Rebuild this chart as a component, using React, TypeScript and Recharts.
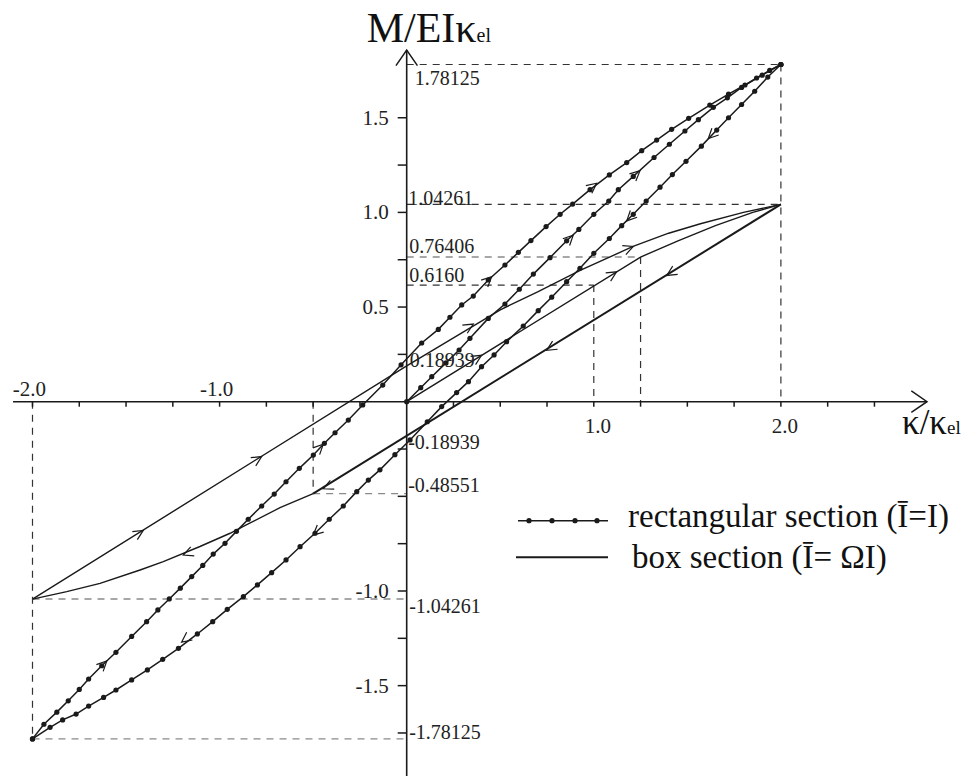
import React from 'react';
import { ComposedChart, Scatter, XAxis, YAxis, ReferenceLine, Legend } from 'recharts';

// rectangular section (I = I) — marker points along each branch
const rectInitial = [
  [0, 0], [0.075, 0.074], [0.134, 0.132], [0.21, 0.205], [0.28, 0.273], [0.338, 0.335], [0.436, 0.44],
  [0.525, 0.516], [0.602, 0.594], [0.677, 0.674], [0.766, 0.761], [0.855, 0.85], [0.92, 0.91], [1.0, 0.99],
  [1.08, 1.06], [1.131, 1.12], [1.211, 1.19], [1.322, 1.29], [1.404, 1.36], [1.487, 1.43], [1.559, 1.49],
  [1.639, 1.555], [1.714, 1.605], [1.79, 1.66], [1.87, 1.71], [1.94, 1.75], [2, 1.78125],
];
const rectReload = [
  [-2, -1.78125], [-1.939, -1.704], [-1.87, -1.64], [-1.809, -1.58], [-1.75, -1.52], [-1.7, -1.465],
  [-1.63, -1.395], [-1.554, -1.324], [-1.47, -1.24], [-1.39, -1.162], [-1.33, -1.1], [-1.269, -1.042],
  [-1.21, -0.985], [-1.149, -0.924], [-1.09, -0.865], [-1.034, -0.805], [-0.971, -0.748], [-0.91, -0.685],
  [-0.847, -0.621], [-0.775, -0.551], [-0.708, -0.488], [-0.645, -0.423], [-0.574, -0.352], [-0.499, -0.282],
  [-0.44, -0.22], [-0.383, -0.164], [-0.312, -0.097], [-0.235, -0.017], [-0.128, 0.088], [-0.03, 0.195],
  [0.08, 0.31], [0.169, 0.382], [0.231, 0.446], [0.294, 0.511], [0.356, 0.558], [0.436, 0.643], [0.525, 0.722],
  [0.597, 0.789], [0.664, 0.851], [0.745, 0.925], [0.82, 0.99], [0.887, 1.044], [0.98, 1.12], [1.083, 1.198],
  [1.176, 1.263], [1.256, 1.326], [1.336, 1.382], [1.416, 1.439], [1.507, 1.497], [1.62, 1.567], [1.72, 1.625],
  [1.808, 1.673], [1.9, 1.725], [2, 1.78125],
];
const rectUnload = [
  [2, 1.78125], [1.93, 1.715], [1.86, 1.64], [1.79, 1.57], [1.72, 1.5], [1.657, 1.435], [1.575, 1.35],
  [1.493, 1.27], [1.42, 1.2], [1.354, 1.133], [1.28, 1.06], [1.211, 0.99], [1.149, 0.93], [1.083, 0.862],
  [1.0, 0.784], [0.926, 0.705], [0.855, 0.634], [0.775, 0.552], [0.703, 0.481], [0.623, 0.4], [0.534, 0.317],
  [0.467, 0.247], [0.4, 0.185], [0.33, 0.106], [0.267, 0.048], [0.187, -0.026], [0.11, -0.106], [0.018, -0.202],
  [-0.063, -0.28], [-0.143, -0.36], [-0.205, -0.414], [-0.267, -0.475], [-0.339, -0.551], [-0.414, -0.621],
  [-0.49, -0.695], [-0.57, -0.766], [-0.645, -0.836], [-0.722, -0.903], [-0.798, -0.968], [-0.873, -1.03],
  [-0.959, -1.097], [-1.037, -1.162], [-1.119, -1.227], [-1.22, -1.303], [-1.304, -1.361], [-1.386, -1.417],
  [-1.47, -1.47], [-1.554, -1.523], [-1.62, -1.562], [-1.7, -1.608], [-1.767, -1.65], [-1.839, -1.681],
  [-1.906, -1.72], [-2, -1.78125],
];

// box section (I = ΩI)
const boxInitial = [[0, 0], [1.25, 0.76406], [1.45, 0.85], [1.65, 0.93], [1.85, 1.0], [2, 1.04261]];
const boxUnload = [[2, 1.04261], [-0.5, -0.48551]];
const boxLower = [
  [-0.5, -0.48551], [-0.677, -0.56], [-0.855, -0.65], [-0.944, -0.695], [-1.105, -0.765], [-1.301, -0.845],
  [-1.425, -0.889], [-1.639, -0.96], [-1.817, -1.003], [-2, -1.04261],
];
const boxReload = [
  [-2, -1.04261], [0, 0.18939], [0.5, 0.4855], [0.7, 0.58], [0.93, 0.695], [1.21, 0.82], [1.4, 0.89],
  [1.57, 0.94], [1.8, 1.0], [2, 1.04261],
];

// direction arrows on the branches: x, y, travel direction
const curveArrows = [
  [1.015, 1.154, 1, 0.8], [0.454, 0.66, 1, 0.95], [-0.446, -0.225, 1, 1], [-1.603, -1.37, 1, 1],
  [1.247, 1.22, 1, 0.9], [0.89, 0.88, 1, 1],
  [1.612, 1.39, -1, -1], [1.176, 0.955, -1, -1], [-0.5, -0.705, -1, -0.9], [-1.203, -1.27, -1, -0.75],
  [-1.408, -0.68, 1, 0.616], [-0.775, -0.29, 1, 0.616], [0.356, 0.41, 1, 0.6], [1.211, 0.82, 1, 0.4],
  [0.4, 0.245, 1, 0.611], [1.122, 0.686, 1, 0.611],
  [1.39, 0.667, -1, -0.616], [0.748, 0.271, -1, -0.616], [-0.446, -0.46, -1, -0.45], [-1.194, -0.81, -1, -0.4],
];

// dashed guide lines
const darkGuides = [
  [0, 1.78125, 2, 1.78125], [2, 1.78125, 2, 0], [0, 1.04261, 2, 1.04261],
  [1.25, 0.76406, 1.25, 0], [0, 0.616, 1.0, 0.616], [1.0, 0.616, 1.0, 0],
  [-0.5, 0, -0.5, -0.48551], [-2, 0, -2, -1.78125],
];
const grayGuides = [
  [0, 0.76406, 1.25, 0.76406], [-0.5, -0.48551, 0, -0.48551],
  [-2, -1.04261, 0, -1.04261], [-2, -1.78125, 0, -1.78125],
];

const valueLabels = ['1.78125', '1.04261', '0.76406', '0.6160', '0.18939', '-0.18939', '-0.48551', '-1.04261', '-1.78125'];
const xTickValues = [-2, -1.75, -1.5, -1.25, -1, -0.75, -0.5, -0.25, 0.25, 0.5, 0.75, 1, 1.25, 1.5, 1.75, 2, 2.25, 2.5];
const yTickValues = [-1.75, -1.5, -1.25, -1, -0.75, -0.5, -0.25, 0.25, 0.5, 0.75, 1, 1.25, 1.5];
const xTickLabels = [-2, -1, 1, 2];
const yTickLabels = [1.5, 1, 0.5, -1, -1.5];

const X_DOMAIN = [-2.1737, 3.0161];
const Y_DOMAIN = [-1.9773, 2.122];
const AXIS_X = [-2.104, 2.781];
const AXIS_Y = [-1.977, 1.858];

const FONT = '"Liberation Serif", "Times New Roman", serif';
const INK = '#1a1a1a';

const toPts = (a: number[][]) => a.map(([x, y]) => ({ x, y }));

const labelNudge: Record<string, [number, number]> = {
  '1.78125': [8, 20.5], '1.04261': [1.5, 1], '0.76406': [2.5, -4], '0.6160': [2.5, -3], '0.18939': [3, 1],
  '-0.18939': [1.5, 11.5], '-0.48551': [1.5, -1.5], '-1.04261': [2.5, 14], '-1.78125': [2.5, 0],
};

const Marker = (p: any) => <circle cx={p.cx} cy={p.cy} r={2.6} fill={INK} />;
const Nothing = () => <g />;

const chevron = (len: number, half: number, width: number) => (p: any) => {
  const { cx, cy, payload } = p;
  const a = Math.atan2(-payload.dy, payload.dx);
  const x1 = cx - len * Math.cos(a - half);
  const y1 = cy - len * Math.sin(a - half);
  const x2 = cx - len * Math.cos(a + half);
  const y2 = cy - len * Math.sin(a + half);
  return <polyline points={`${x1},${y1} ${cx},${cy} ${x2},${y2}`} fill="none" stroke={INK} strokeWidth={width} />;
};

const XTick = (p: any) => <line x1={p.cx} y1={p.cy} x2={p.cx} y2={p.cy + 5} stroke={INK} strokeWidth={1.5} />;
const YTick = (p: any) => <line x1={p.cx - 9} y1={p.cy} x2={p.cx} y2={p.cy} stroke={INK} strokeWidth={1.5} />;

const ValueText = (p: any) => {
  const [dx, dy] = labelNudge[p.payload.text];
  return (
    <text x={p.cx + dx} y={p.cy + dy} fontFamily={FONT} fontSize={20} fill="#222">
      {p.payload.text}
    </text>
  );
};

const XTickText = (p: any) => {
  const v = p.payload.x;
  return (
    <text x={p.cx + (v < 0 ? -3 : 4)} y={p.cy + (v < 0 ? -6 : 31)} textAnchor="middle" fontFamily={FONT} fontSize={21} fill="#222">
      {v.toFixed(1)}
    </text>
  );
};

const YTickText = (p: any) => (
  <text x={p.cx - 18} y={p.cy + 7} textAnchor="end" fontFamily={FONT} fontSize={21} fill="#222">
    {p.payload.y.toFixed(1)}
  </text>
);

const YTitle = (p: any) => (
  <text x={p.cx - 40} y={p.cy - 8} fontFamily={FONT} fill="#111">
    <tspan fontSize={42}>M/EIκ</tspan>
    <tspan fontSize={20}>el</tspan>
  </text>
);

const XTitle = (p: any) => (
  <text x={p.cx - 25} y={p.cy + 32} fontFamily={FONT} fill="#111">
    <tspan fontSize={35}>κ/κ</tspan>
    <tspan fontSize={19}>el</tspan>
  </text>
);

const LegendBox = () => (
  <svg width={470} height={95} style={{ display: 'block' }}>
    <line x1={18} y1={30.7} x2={108} y2={30.7} stroke={INK} strokeWidth={1.6} />
    {[29, 52, 75, 97].map((cx) => (
      <circle key={cx} cx={cx} cy={30.7} r={2.6} fill={INK} />
    ))}
    <text x={128} y={37} fontFamily={FONT} fontSize={33} fill="#111">rectangular section (Ī=I)</text>
    <line x1={16} y1={67.3} x2={108} y2={67.3} stroke={INK} strokeWidth={2} />
    <text x={132} y={78.3} fontFamily={FONT} fontSize={33} fill="#111">box section (Ī= ΩI)</text>
  </svg>
);

export default function App() {
  const arrows = curveArrows.map(([x, y, dx, dy]) => ({ x, y, dx, dy }));
  const axisTips = [
    { x: AXIS_X[1], y: 0, dx: 1, dy: 0 },
    { x: 0, y: AXIS_Y[1], dx: 0, dy: 1 },
  ];
  const rectLine = { stroke: INK, strokeWidth: 1.5 };
  const boxLine = { stroke: INK, strokeWidth: 1.4 };

  return (
    <div style={{ position: 'absolute', left: 0, top: 0 }}>
      <ComposedChart width={971} height={776} margin={{ top: 0, right: 0, bottom: 0, left: 0 }}>
        <XAxis type="number" dataKey="x" domain={X_DOMAIN} allowDataOverflow hide />
        <YAxis type="number" dataKey="y" domain={Y_DOMAIN} allowDataOverflow hide />

        {darkGuides.map(([x1, y1, x2, y2], i) => (
          <ReferenceLine key={'d' + i} segment={[{ x: x1, y: y1 }, { x: x2, y: y2 }]} stroke="#333" strokeWidth={1.2} strokeDasharray="7 6" ifOverflow="visible" />
        ))}
        {grayGuides.map(([x1, y1, x2, y2], i) => (
          <ReferenceLine key={'g' + i} segment={[{ x: x1, y: y1 }, { x: x2, y: y2 }]} stroke="#8a8a8a" strokeWidth={1.4} strokeDasharray="7 6" ifOverflow="visible" />
        ))}

        <ReferenceLine segment={[{ x: AXIS_X[0], y: 0 }, { x: AXIS_X[1], y: 0 }]} stroke={INK} strokeWidth={1.6} ifOverflow="visible" />
        <ReferenceLine segment={[{ x: 0, y: AXIS_Y[0] }, { x: 0, y: AXIS_Y[1] }]} stroke={INK} strokeWidth={1.6} ifOverflow="visible" />

        <Scatter data={xTickValues.map((x) => ({ x, y: 0 }))} shape={XTick} isAnimationActive={false} legendType="none" />
        <Scatter data={yTickValues.map((y) => ({ x: 0, y }))} shape={YTick} isAnimationActive={false} legendType="none" />
        <Scatter data={axisTips} shape={chevron(19, 0.6, 1.5)} isAnimationActive={false} legendType="none" />

        <Scatter data={toPts(boxInitial)} line={boxLine} lineType="joint" shape={Nothing} isAnimationActive={false} legendType="none" />
        <Scatter data={toPts(boxUnload)} line={{ stroke: INK, strokeWidth: 2 }} lineType="joint" shape={Nothing} isAnimationActive={false} legendType="none" />
        <Scatter data={toPts(boxLower)} line={boxLine} lineType="joint" shape={Nothing} isAnimationActive={false} legendType="none" />
        <Scatter data={toPts(boxReload)} line={boxLine} lineType="joint" shape={Nothing} isAnimationActive={false} legendType="none" />

        <Scatter data={toPts(rectInitial)} line={rectLine} lineType="joint" shape={Marker} isAnimationActive={false} legendType="none" />
        <Scatter data={toPts(rectReload)} line={rectLine} lineType="joint" shape={Marker} isAnimationActive={false} legendType="none" />
        <Scatter data={toPts(rectUnload)} line={rectLine} lineType="joint" shape={Marker} isAnimationActive={false} legendType="none" />

        <Scatter data={arrows} shape={chevron(11, 0.45, 1.2)} isAnimationActive={false} legendType="none" />

        <Scatter data={valueLabels.map((text) => ({ x: 0, y: Number(text), text }))} shape={ValueText} isAnimationActive={false} legendType="none" />
        <Scatter data={xTickLabels.map((x) => ({ x, y: 0 }))} shape={XTickText} isAnimationActive={false} legendType="none" />
        <Scatter data={yTickLabels.map((y) => ({ x: 0, y }))} shape={YTickText} isAnimationActive={false} legendType="none" />
        <Scatter data={[{ x: 0, y: AXIS_Y[1] }]} shape={YTitle} isAnimationActive={false} legendType="none" />
        <Scatter data={[{ x: AXIS_X[1], y: 0 }]} shape={XTitle} isAnimationActive={false} legendType="none" />

        <Legend
          layout="horizontal"
          verticalAlign="middle"
          align="center"
          content={LegendBox}
          wrapperStyle={{ left: 500, top: 490, width: 470, height: 95 }}
        />
      </ComposedChart>
    </div>
  );
}
